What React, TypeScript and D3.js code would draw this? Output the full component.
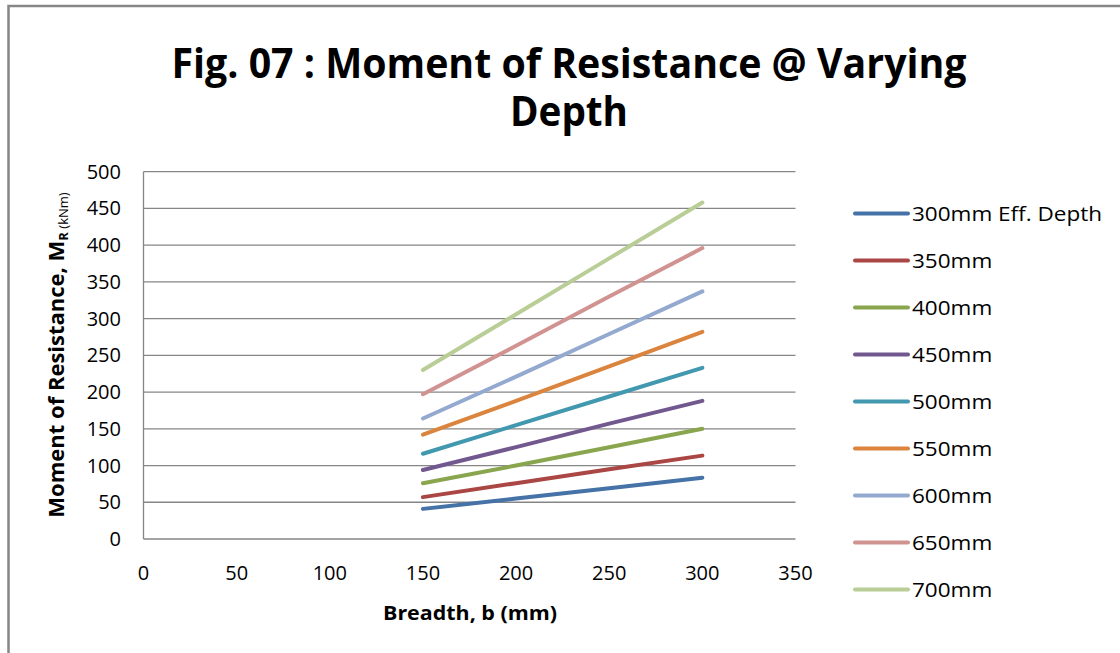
import React from "react";
import * as d3 from "d3";

const breadths = [150, 200, 250, 300];
const seriesNames = ["300mm Eff. Depth", "350mm", "400mm", "450mm", "500mm", "550mm", "600mm", "650mm", "700mm"];
const d300 = [41, 55, 69, 83.5];
const d350 = [57, 76, 95, 113.5];
const d400 = [76, 100, 125, 150];
const d450 = [94, 125, 157, 188];
const d500 = [116, 155, 194, 233];
const d550 = [142, 188, 235, 282];
const d600 = [164, 221, 279, 337];
const d650 = [197, 263, 330, 396];
const d700 = [230, 306, 382, 458];
const seriesValues = [d300, d350, d400, d450, d500, d550, d600, d650, d700];
const colors = ["#4572A7", "#AA4643", "#89A54E", "#71588F", "#4198AF", "#DB843D", "#93A9CF", "#D19392", "#B9CD96"];
const xTicks = [0, 50, 100, 150, 200, 250, 300, 350];
const yTicks = [0, 50, 100, 150, 200, 250, 300, 350, 400, 450, 500];
const titleLine1 = "Fig. 07 : Moment of Resistance @ Varying";
const titleLine2 = "Depth";

const FONT = "'Open Sans', 'Noto Sans', sans-serif";

function measure(text: string, font: string): number {
  try {
    const c = document.createElement("canvas").getContext("2d");
    if (!c) return text.length * 10;
    c.font = font;
    return c.measureText(text).width;
  } catch (e) {
    return text.length * 10;
  }
}

export default function App() {
  const W = 1120, H = 653;
  const x = d3.scaleLinear().domain([0, 350]).range([143.5, 795.5]);
  const y = d3.scaleLinear().domain([0, 500]).range([539, 171.7]);
  const line = d3.line<[number, number]>().x(d => x(d[0])).y(d => y(d[1]));
  const grid = "#868686";

  const legFont = `20px ${FONT}`;
  const legScale = 190 / measure(seriesNames[0], legFont);

  return (
    <svg width={W} height={H} style={{ position: "absolute", left: 0, top: 0 }}>
      <rect x={0} y={0} width={W} height={H} fill="#fff" />
      <rect x={8.5} y={6} width={W + 20} height={H + 20} fill="none" stroke={grid} strokeWidth={2.5} />
      <g fontFamily={FONT}>
        <text x={569} y={78} textAnchor="middle" fontWeight="bold" fontSize={42} textLength={795} lengthAdjust="spacingAndGlyphs">{titleLine1}</text>
        <text x={569} y={126} textAnchor="middle" fontWeight="bold" fontSize={42} textLength={118} lengthAdjust="spacingAndGlyphs">{titleLine2}</text>
        {yTicks.map(t => (
          <line key={"g" + t} x1={x(0)} x2={x(350)} y1={y(t)} y2={y(t)} stroke={grid} strokeWidth={1.3} />
        ))}
        <line x1={x(0)} x2={x(0)} y1={y(0)} y2={y(500)} stroke={grid} strokeWidth={1.3} />
        {yTicks.map(t => (
          <text key={"yl" + t} x={121} y={y(t)} dy="0.35em" textAnchor="end" fontSize={20} fill="#000">{t}</text>
        ))}
        {xTicks.map(t => (
          <text key={"xl" + t} x={x(t)} y={573} dy="0.35em" textAnchor="middle" fontSize={20} fill="#000">{t}</text>
        ))}
        <text x={470} y={620} textAnchor="middle" fontWeight="bold" fontSize={20} textLength={174} lengthAdjust="spacingAndGlyphs">Breadth, b (mm)</text>
        <text transform="translate(64,355) rotate(-90)" textAnchor="middle" fontWeight="bold" fontSize={22}>
          Moment of Resistance, M<tspan fontSize={13} dy={4}>R</tspan><tspan fontSize={13} fontWeight="normal"> (kNm)</tspan>
        </text>
        {seriesValues.map((vals, i) => (
          <path key={"s" + i} d={line(breadths.map((b, j) => [b, vals[j]] as [number, number])) || ""} fill="none" stroke={colors[i]} strokeWidth={4} strokeLinecap="round" />
        ))}
        {seriesNames.map((n, i) => (
          <g key={"lg" + i} transform={`translate(0, ${213.5 + i * 47})`}>
            <line x1={855} x2={908} y1={0} y2={0} stroke={colors[i]} strokeWidth={4} strokeLinecap="round" />
            <text x={912} y={0} dy="0.35em" fontSize={20} fill="#000" textLength={measure(n, legFont) * legScale} lengthAdjust="spacingAndGlyphs">{n}</text>
          </g>
        ))}
      </g>
    </svg>
  );
}
